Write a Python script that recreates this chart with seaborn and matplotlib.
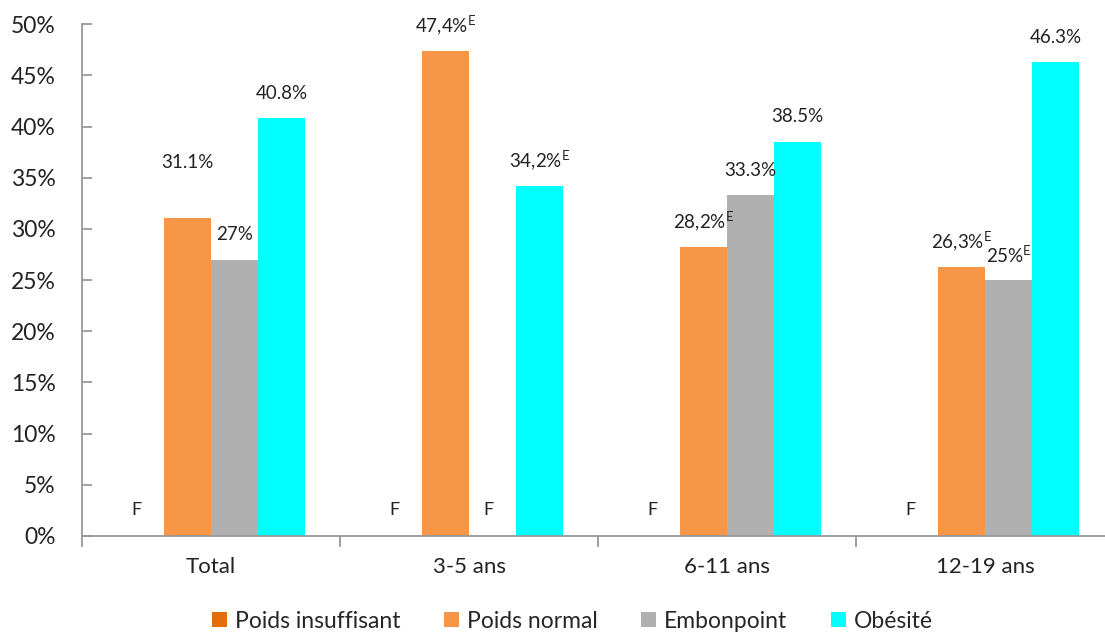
import pandas as pd
import numpy as np
import matplotlib
matplotlib.use("Agg")
import matplotlib.pyplot as plt
import seaborn as sns

# ==============================
# DATA
# ==============================

groupes = ["Total", "3-5 ans", "6-11 ans", "12-19 ans"]
categories = ["Poids insuffisant", "Poids normal", "Embonpoint", "Obésité"]

# None = F (too unreliable to publish)
poids_insuffisant = [None, None, None, None]
poids_normal = [31.1, 47.4, 28.2, 26.3]
embonpoint = [27.0, None, 33.3, 25.0]
obesite = [40.8, 34.2, 38.5, 46.3]

# printed labels (E = use with caution)
lab_insuffisant = ["F", "F", "F", "F"]
lab_normal = ["31.1%", "47,4%E", "28,2%E", "26,3%E"]
lab_embonpoint = ["27%", "F", "33.3%", "25%E"]
lab_obesite = ["40.8%", "34,2%E", "38.5%", "46.3%"]

couleurs = ["#E46C0A", "#F79646", "#B0B0B0", "#00FFFF"]
yticks = [0, 5, 10, 15, 20, 25, 30, 35, 40, 45, 50]

series = [poids_insuffisant, poids_normal, embonpoint, obesite]
labels = [lab_insuffisant, lab_normal, lab_embonpoint, lab_obesite]

rows = []
for cat, vals in zip(categories, series):
    for g, v in zip(groupes, vals):
        rows.append({"groupe": g, "categorie": cat,
                     "valeur": 0.0 if v is None else v})
df = pd.DataFrame(rows)

# ==============================
# PLOT
# ==============================

sns.set_style("white")
plt.rcParams["font.family"] = ["Lato", "DejaVu Sans"]
plt.rcParams["mathtext.fontset"] = "custom"
plt.rcParams["mathtext.rm"] = "Lato"

fig = plt.figure(figsize=(11.05, 6.38), dpi=100)
ax = fig.add_axes([0.0742, 0.160, 0.934, 0.802])

sns.barplot(data=df, x="groupe", y="valeur", hue="categorie",
            order=groupes, hue_order=categories, palette=couleurs,
            saturation=1, errorbar=None, width=0.73, linewidth=0, ax=ax)

ax.set_ylim(0, 50)
ax.set_xlim(-0.5, 3.5)
ax.set_yticks(yticks)
ax.set_yticklabels([f"{t}%" for t in yticks], fontsize=16.5, color="#222222")
ax.set_xticklabels(groupes, fontsize=16, color="#222222")
ax.set_xlabel("")
ax.set_ylabel("")

for s in ["top", "right"]:
    ax.spines[s].set_visible(False)
for s in ["left", "bottom"]:
    ax.spines[s].set_color("#999999")
    ax.spines[s].set_linewidth(1.3)

ax.tick_params(axis="y", direction="in", length=7, width=1.3,
               color="#999999", pad=19, left=True)
ax.tick_params(axis="x", which="major", length=0, pad=15)
ax.set_xticks([-0.5, 0.5, 1.5, 2.5], minor=True)
ax.tick_params(axis="x", which="minor", direction="out", length=8,
               width=1.3, color="#999999", bottom=True)

# value labels
for cont, vals, labs in zip(ax.containers, series, labels):
    for bar, v, lab in zip(cont, vals, labs):
        xc = bar.get_x() + bar.get_width() / 2
        if v is None:
            ax.annotate("F", (xc, 0), xytext=(-3, 19), textcoords="offset points",
                        ha="center", va="center", fontsize=13, color="#222222")
            continue
        txt = lab
        if lab.endswith("E"):
            txt = lab[:-1] + r"$^{\mathrm{E}}$"
        lift = 40 if lab == "31.1%" else 18
        ax.annotate(txt, (xc, v), xytext=(0, lift), textcoords="offset points",
                    ha="center", va="center", fontsize=13.5, color="#222222")

ax.legend(loc="upper center", bbox_to_anchor=(0.475, -0.128), ncol=4,
          frameon=False, fontsize=16.5, handlelength=0.65, handleheight=0.65,
          handletextpad=0.35, columnspacing=1.9, borderaxespad=0)

plt.savefig("out.png", dpi=100)
